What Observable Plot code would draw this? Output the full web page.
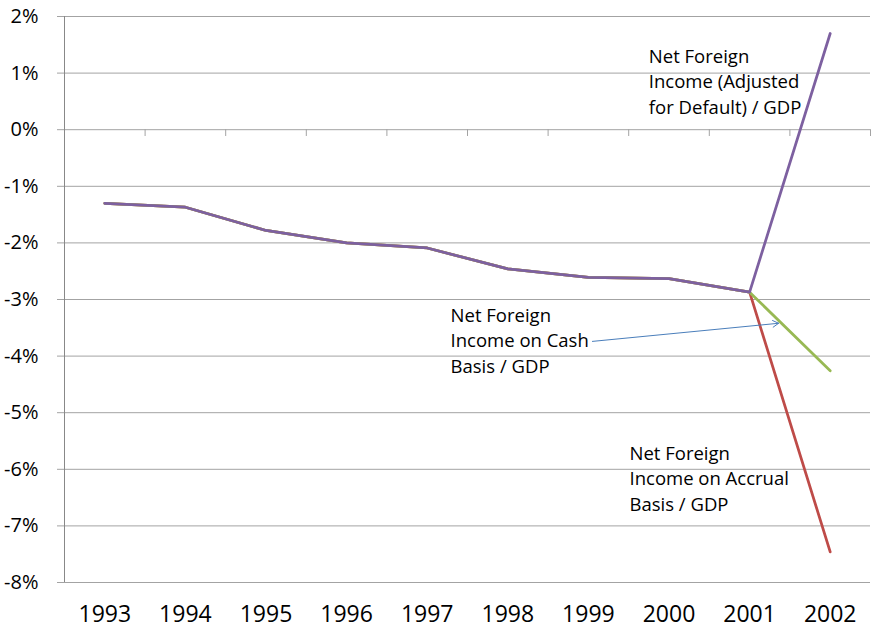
<!DOCTYPE html>
<html>
<head>
<meta charset="utf-8">
<script src="https://cdn.jsdelivr.net/npm/d3@7"></script>
<script src="https://cdn.jsdelivr.net/npm/@observablehq/plot@0.6"></script>
<style>
  html, body { margin: 0; padding: 0; background: #fff; }
  #chart svg { display: block; overflow: visible; }
</style>
</head>
<body>
<div id="chart"></div>
<script>
const years = [1993, 1994, 1995, 1996, 1997, 1998, 1999, 2000, 2001, 2002];
const accrual  = [-1.30, -1.37, -1.78, -2.00, -2.09, -2.46, -2.61, -2.63, -2.87, -7.46];
const cash     = [-1.30, -1.37, -1.78, -2.00, -2.09, -2.46, -2.61, -2.63, -2.87, -4.26];
const adjusted = [-1.30, -1.37, -1.78, -2.00, -2.09, -2.46, -2.61, -2.63, -2.87, 1.70];
const yTicks = [2, 1, 0, -1, -2, -3, -4, -5, -6, -7, -8];

const seriesNames = ["Net Foreign Income on Accrual Basis / GDP", "Net Foreign Income on Cash Basis / GDP", "Net Foreign Income (Adjusted for Default) / GDP"];
const seriesColors = ["#be4b48", "#98b954", "#7d60a0"];

const annotations = [
  {x: 1999.75, y: 1.50, text: "Net Foreign\nIncome (Adjusted\nfor Default) / GDP"},
  {x: 1997.29, y: -3.07, text: "Net Foreign\nIncome on Cash\nBasis / GDP"},
  {x: 1999.51, y: -5.51, text: "Net Foreign\nIncome on Accrual\nBasis / GDP"}
];
const arrowData = [{x1: 1999.05, y1: -3.74, x2: 2001.36, y2: -3.42}];

const series = [accrual, cash, adjusted].map((vals, i) =>
  years.map((yr, j) => ({year: yr, value: vals[j], name: seriesNames[i]})));
const bandEdges = years.map(y => y + 0.5);

const chart = Plot.plot({
  width: 872,
  height: 628,
  marginTop: 16,
  marginBottom: 46,
  marginLeft: 64,
  marginRight: 2,
  style: {fontFamily: "'Open Sans', sans-serif", color: "#000", background: "#fff", overflow: "visible"},
  x: {domain: [1992.5, 2002.5]},
  y: {domain: [-8, 2]},
  marks: [
    Plot.ruleY(yTicks, {stroke: "#a3a3a3", strokeWidth: 1}),
    Plot.ruleX([1992.5], {y1: -8, y2: 2, stroke: "#888", strokeWidth: 1}),
    Plot.ruleX(bandEdges, {x: d => d, y1: 0, y2: -0.12, stroke: "#a3a3a3", strokeWidth: 1}),
    Plot.axisY({ticks: yTicks, tickSize: 7, tickPadding: 19, fontSize: 20, stroke: "#a3a3a3", tickFormat: d => d + "%", label: null}),
    Plot.axisX({ticks: years, tickSize: 0, tickPadding: 23, fontSize: 23, tickFormat: d => String(d), label: null}),
    ...series.map((s, i) => Plot.line(s, {x: "year", y: "value", stroke: seriesColors[i], strokeWidth: 2.75})),
    Plot.text(annotations, {x: "x", y: "y", text: "text", textAnchor: "start", lineAnchor: "top", lineHeight: 1.378, fontSize: 18.5, fill: "#000"}),
    Plot.arrow(arrowData, {x1: "x1", y1: "y1", x2: "x2", y2: "y2", stroke: "#4a7ebb", strokeWidth: 1, headLength: 10, bend: 0})
  ]
});
document.getElementById("chart").appendChild(chart);
</script>
</body>
</html>
